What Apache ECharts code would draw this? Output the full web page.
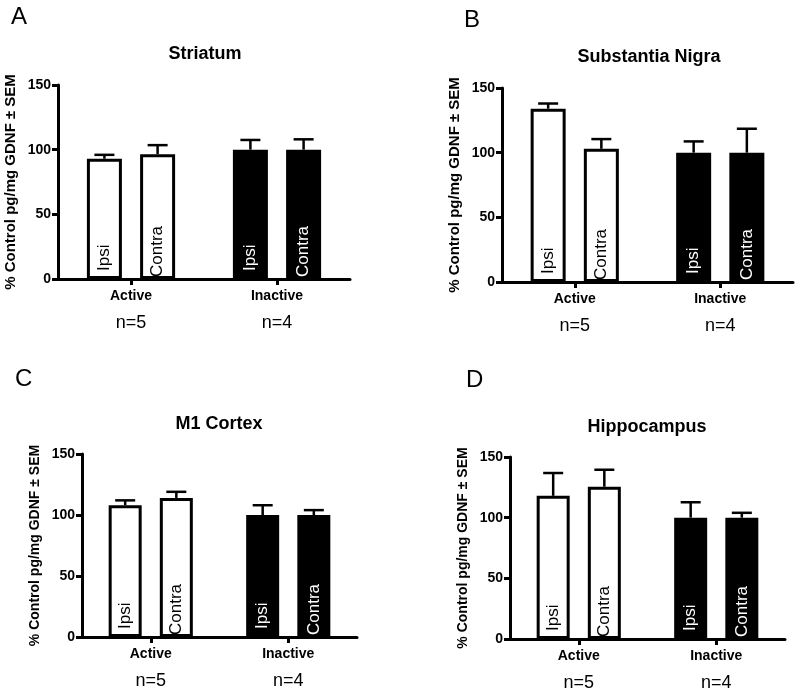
<!DOCTYPE html>
<html>
<head>
<meta charset="utf-8">
<script src="https://cdn.jsdelivr.net/npm/echarts@6/dist/echarts.min.js"></script>
<style>
html,body{margin:0;padding:0;background:#fff;}
#chart{width:800px;height:692px;}
</style>
</head>
<body>
<div id="chart"></div>
<script>
// ---- data ----
const categories = ['Active', 'Inactive'];
const nLabels = ['n=5', 'n=4'];
const barNames = ['Ipsi', 'Contra'];
const panelLetters = ['A', 'B', 'C', 'D'];
const panelTitles = ['Striatum', 'Substantia Nigra', 'M1 Cortex', 'Hippocampus'];
const yAxisName = '% Control pg/mg GDNF \u00b1 SEM';
const yTicks = { min: 0, max: 150, interval: 50 };

const striatumIpsi = [93, 100];
const striatumIpsiErr = [3, 7.5];
const striatumContra = [96.5, 100];
const striatumContraErr = [7, 8];

const nigraIpsi = [134, 100];
const nigraIpsiErr = [4, 8.7];
const nigraContra = [103, 100];
const nigraContraErr = [7.5, 18.5];

const cortexIpsi = [108, 100];
const cortexIpsiErr = [4, 8];
const cortexContra = [114, 100];
const cortexContraErr = [5, 4];

const hippoIpsi = [118, 100];
const hippoIpsiErr = [18.8, 12.7];
const hippoContra = [125.5, 100];
const hippoContraErr = [14, 4];

const panelValues = [
  [striatumIpsi, striatumContra],
  [nigraIpsi, nigraContra],
  [cortexIpsi, cortexContra],
  [hippoIpsi, hippoContra]
];
const panelErrors = [
  [striatumIpsiErr, striatumContraErr],
  [nigraIpsiErr, nigraContraErr],
  [cortexIpsiErr, cortexContraErr],
  [hippoIpsiErr, hippoContraErr]
];

// ---- layout / style ----
const FONT = '"Liberation Sans", Arial, Helvetica, sans-serif';
const grids = [
  { left: 58, top: 85, width: 292, height: 194 },
  { left: 502, top: 88, width: 291, height: 194 },
  { left: 82, top: 454, width: 275, height: 183 },
  { left: 510, top: 457, width: 275, height: 183 }
];
const barWidths = [35, 35, 33, 33];
const barGaps = [0.52, 0.52, 0.55, 0.55];
const yNameSizes = [15, 15, 14, 14];
const titlePos = [
  { x: 205, y: 45 }, { x: 649, y: 48 }, { x: 219, y: 415 }, { x: 647, y: 418 }
];
const letterPos = [
  { x: 11, y: 5 }, { x: 464, y: 8 }, { x: 15, y: 367 }, { x: 466, y: 368 }
];
const groupFill = ['#ffffff', '#000000'];
const groupText = ['#000000', '#ffffff'];
const labelDist = [8, 2];

const option = {
  backgroundColor: '#ffffff',
  animation: false,
  title: [],
  grid: [],
  xAxis: [],
  yAxis: [],
  series: []
};

for (let p = 0; p < 4; p++) {
  option.grid.push(Object.assign({ containLabel: false }, grids[p]));
  option.title.push({
    text: panelLetters[p], left: letterPos[p].x, top: letterPos[p].y, padding: 0,
    textStyle: { fontFamily: FONT, fontSize: 24, fontWeight: 'normal', color: '#000' }
  });
  option.title.push({
    text: panelTitles[p], left: titlePos[p].x, top: titlePos[p].y, textAlign: 'center', padding: 0,
    textStyle: { fontFamily: FONT, fontSize: 18, fontWeight: 'bold', color: '#000' }
  });
  option.xAxis.push({
    type: 'category', gridIndex: p, data: categories,
    axisLine: { show: true, lineStyle: { color: '#000', width: 3 } },
    axisTick: { show: true, alignWithLabel: true, length: 6, lineStyle: { color: '#000', width: 3 } },
    splitLine: { show: false },
    axisLabel: {
      margin: 8, interval: 0,
      formatter: function (value, idx) { return '{a|' + value + '}\n{n|' + nLabels[idx] + '}'; },
      rich: {
        a: { fontFamily: FONT, fontSize: 14, fontWeight: 'bold', color: '#000', lineHeight: 18 },
        n: { fontFamily: FONT, fontSize: 18, fontWeight: 'normal', color: '#000', lineHeight: 36 }
      }
    }
  });
  option.yAxis.push({
    type: 'value', gridIndex: p, min: yTicks.min, max: yTicks.max, interval: yTicks.interval,
    name: yAxisName, nameLocation: 'middle', nameGap: 40, nameRotate: 90,
    nameTextStyle: { fontFamily: FONT, fontSize: yNameSizes[p], fontWeight: 'bold', color: '#000' },
    axisLine: { show: true, lineStyle: { color: '#000', width: 3 } },
    axisTick: { show: true, length: 6, lineStyle: { color: '#000', width: 3 } },
    splitLine: { show: false },
    axisLabel: { margin: 7, fontFamily: FONT, fontSize: 14, fontWeight: 'bold', color: '#000' }
  });

  const bw = barWidths[p];
  const gap = barGaps[p];
  for (let s = 0; s < 2; s++) {
    const vals = panelValues[p][s];
    option.series.push({
      type: 'bar', name: barNames[s], xAxisIndex: p, yAxisIndex: p,
      barWidth: bw, barGap: (gap * 100) + '%', z: 2,
      data: vals.map(function (v, ci) {
        return {
          value: v,
          itemStyle: { color: groupFill[ci], borderColor: '#000', borderWidth: 3 },
          label: { color: groupText[ci] }
        };
      }),
      label: {
        show: true, position: 'insideBottom', distance: labelDist[s], rotate: 90,
        align: 'left', verticalAlign: 'middle',
        fontFamily: FONT, fontSize: 17, fontWeight: 'normal',
        formatter: barNames[s]
      }
    });
    const errs = panelErrors[p][s];
    const offset = (s === 0 ? -1 : 1) * bw * (1 + gap) / 2;
    option.series.push({
      type: 'custom', xAxisIndex: p, yAxisIndex: p, z: 3, silent: true,
      data: vals.map(function (v, ci) { return [ci, v, errs[ci]]; }),
      encode: { x: 0, y: 1 },
      renderItem: function (params, api) {
        const ci = api.value(0), v = api.value(1), e = api.value(2);
        const base = api.coord([ci, v]);
        const top = api.coord([ci, v + e]);
        const x = base[0] + offset;
        const st = { stroke: '#000', lineWidth: 2.5, fill: null };
        return {
          type: 'group',
          children: [
            { type: 'line', shape: { x1: x, y1: base[1], x2: x, y2: top[1] }, style: st },
            { type: 'line', shape: { x1: x - 10, y1: top[1], x2: x + 10, y2: top[1] }, style: st }
          ]
        };
      }
    });
  }
}

const chart = echarts.init(document.getElementById('chart'), null, { renderer: 'canvas' });
chart.setOption(option);
</script>
</body>
</html>
